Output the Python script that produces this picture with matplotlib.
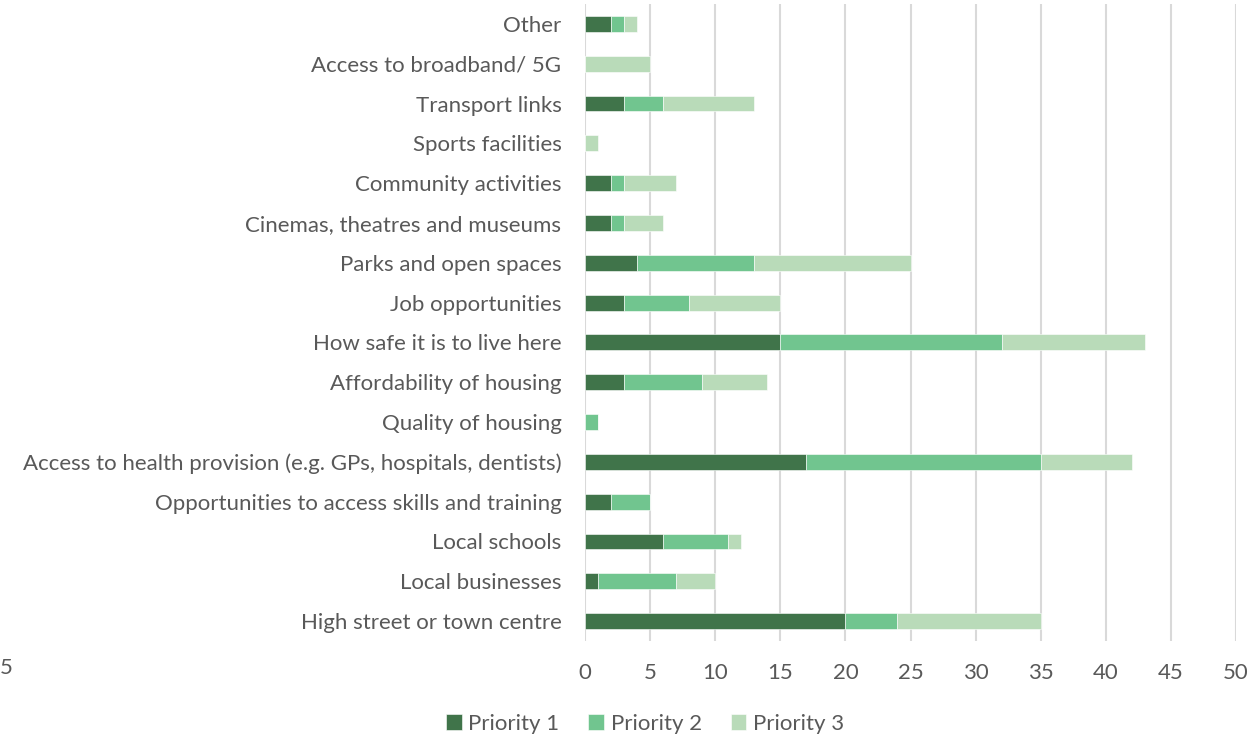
import matplotlib
matplotlib.use("Agg")
import matplotlib.pyplot as plt
import numpy as np

# Categories listed bottom to top, as drawn
categories = [
    "High street or town centre",
    "Local businesses",
    "Local schools",
    "Opportunities to access skills and training",
    "Access to health provision (e.g. GPs, hospitals, dentists)",
    "Quality of housing",
    "Affordability of housing",
    "How safe it is to live here",
    "Job opportunities",
    "Parks and open spaces",
    "Cinemas, theatres and museums",
    "Community activities",
    "Sports facilities",
    "Transport links",
    "Access to broadband/ 5G",
    "Other",
]
priority_1 = [20, 1, 6, 2, 17, 0, 3, 15, 3, 4, 2, 2, 0, 3, 0, 2]
priority_2 = [4, 6, 5, 3, 18, 1, 6, 17, 5, 9, 1, 1, 0, 3, 0, 1]
priority_3 = [11, 3, 1, 0, 7, 0, 5, 11, 7, 12, 3, 4, 1, 7, 5, 1]
series_names = ["Priority 1", "Priority 2", "Priority 3"]
x_ticks = list(range(0, 55, 5))

colors = ["#40744a", "#71c58f", "#b9dbb9"]
text_color = "#595959"
plt.rcParams["font.family"] = ["Lato", "DejaVu Sans"]

fig = plt.figure(figsize=(12.59, 7.35), dpi=100)
ax = fig.add_axes([585 / 1259, 1 - 641 / 735, (1236 - 585) / 1259, (641 - 4) / 735])

y = np.arange(len(categories))
left = np.zeros(len(categories))
for name, vals, c in zip(series_names, [priority_1, priority_2, priority_3], colors):
    ax.barh(y, vals, left=left, height=0.4, color=c, label=name,
            edgecolor="white", linewidth=0.4, zorder=3)
    left += np.array(vals)

ax.set_xlim(0, 50)
ax.set_ylim(-0.5, len(categories) - 0.5)
ax.set_xticks(x_ticks)
ax.set_yticks(y)
ax.set_yticklabels(categories)
ax.tick_params(axis="both", length=0, labelsize=16, colors=text_color)
ax.tick_params(axis="y", pad=17)
ax.tick_params(axis="x", pad=16)
ax.grid(axis="x", color="#d9d9d9", linewidth=1.5, zorder=0)
for s in ax.spines.values():
    s.set_visible(False)

leg = fig.legend(loc="center", bbox_to_anchor=(645 / 1259, 1 - 724 / 735), ncol=3,
                 frameon=False, fontsize=16, handlelength=0.7, handleheight=0.7,
                 handletextpad=0.3, columnspacing=1.3)
for t in leg.get_texts():
    t.set_color(text_color)

fig.text(0, 1 - 668 / 735, "5", fontsize=16, color=text_color, va="center", ha="left")

fig.savefig("out.png", dpi=100)
